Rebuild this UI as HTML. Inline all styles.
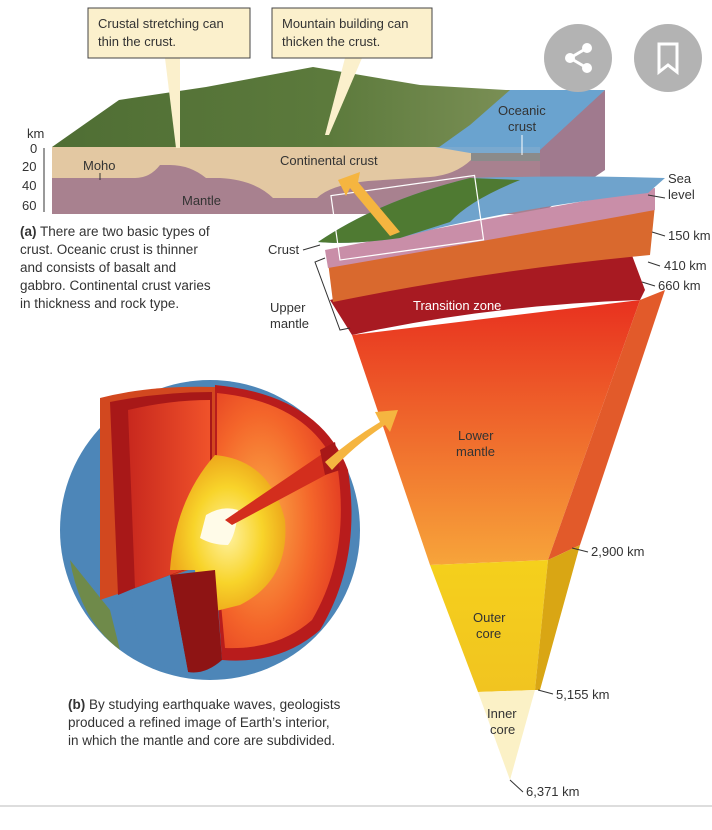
<!DOCTYPE html>
<html><head><meta charset="utf-8"><style>
html,body{margin:0;padding:0;background:#fff;}
svg{display:block;font-family:"Liberation Sans",sans-serif;}
</style></head><body>
<svg width="712" height="830" viewBox="0 0 712 830" xmlns="http://www.w3.org/2000/svg">
<defs>
<linearGradient id="lm" x1="0" y1="0" x2="0" y2="1"><stop offset="0" stop-color="#e8311f"/><stop offset="1" stop-color="#f7a43a"/></linearGradient>
<linearGradient id="oc" x1="0" y1="0" x2="0" y2="1"><stop offset="0" stop-color="#f5d01c"/><stop offset="1" stop-color="#f1c420"/></linearGradient>
<radialGradient id="rf" cx="0.35" cy="0.5" r="0.7"><stop offset="0" stop-color="#fbb048"/><stop offset="0.6" stop-color="#f4652a"/><stop offset="1" stop-color="#e23a22"/></radialGradient>
<radialGradient id="yc" cx="0.5" cy="0.5" r="0.5"><stop offset="0" stop-color="#fff2a0"/><stop offset="0.6" stop-color="#f8d42a"/><stop offset="1" stop-color="#eeaa1c"/></radialGradient>
<linearGradient id="lf" x1="0" y1="0" x2="1" y2="0"><stop offset="0" stop-color="#c8281e"/><stop offset="1" stop-color="#f0522a"/></linearGradient>
<linearGradient id="land" x1="0" y1="0" x2="1" y2="0"><stop offset="0" stop-color="#4f6e34"/><stop offset="0.5" stop-color="#5c7a3c"/><stop offset="1" stop-color="#8a9a62"/></linearGradient>
</defs>
<!-- top block diagram -->
<polygon points="52,147 119,100 206,87 313,67 420,85 506,90 605,90 540,153 52,153" fill="url(#land)"/>
<polygon points="435,150 470,125 510,90 605,90 540,153" fill="#6aa3cf"/>
<polygon points="540,150 605,90 605,170 540,214" fill="#a07a8e"/>
<rect x="52" y="147" width="488" height="67" fill="#a8818f"/>
<path d="M52,147 L540,147 L540,160 L471,160 Q455,175 430,177 L368,181 Q330,185 317,198 L273,198 Q255,180 220,178 L206,178 Q190,165 170,165 L160,165 Q150,178 135,178 L52,178 Z" fill="#e3c8a2"/>
<polygon points="435,147 540,147 540,153 470,153" fill="#7aa9cf"/>
<rect x="471" y="153" width="69" height="8" fill="#8b8b8b"/>
<text x="27" y="138" font-size="13" fill="#333">km</text>
<g font-size="13" fill="#333"><text x="30" y="153">0</text><text x="22" y="171">20</text><text x="22" y="190">40</text><text x="22" y="210">60</text></g>
<line x1="44" y1="148" x2="44" y2="212" stroke="#333"/>
<text x="83" y="170" font-size="13" fill="#333">Moho</text>
<line x1="100" y1="173" x2="100" y2="180" stroke="#333"/>
<text x="280" y="165" font-size="13" fill="#333">Continental crust</text>
<text x="182" y="205" font-size="13" fill="#333">Mantle</text>
<text x="498" y="115" font-size="13" fill="#333">Oceanic</text><text x="508" y="131" font-size="13" fill="#333">crust</text>
<line x1="522" y1="135" x2="522" y2="155" stroke="#fff"/>
<!-- callouts -->
<polygon points="165,58 180,58 180,148 176,148" fill="#fbf0cc"/>
<polygon points="345,58 362,58 329,135 325,135" fill="#fbf0cc"/>
<rect x="88" y="8" width="162" height="50" fill="#fbf0cc" stroke="#444"/>
<text x="98" y="28" font-size="13" fill="#333">Crustal stretching can</text><text x="98" y="46" font-size="13" fill="#333">thin the crust.</text>
<rect x="272" y="8" width="160" height="50" fill="#fbf0cc" stroke="#444"/>
<text x="282" y="28" font-size="13" fill="#333">Mountain building can</text><text x="282" y="46" font-size="13" fill="#333">thicken the crust.</text>
<!-- buttons -->
<circle cx="578" cy="58" r="34" fill="#b3b3b3"/><circle cx="668" cy="58" r="34" fill="#b3b3b3"/>
<g stroke="#fff" stroke-width="3"><line x1="570" y1="58" x2="587" y2="48"/><line x1="570" y1="58" x2="587" y2="68"/></g>
<circle cx="570" cy="58" r="5" fill="#fff"/><circle cx="587" cy="48" r="5" fill="#fff"/><circle cx="587" cy="68" r="5" fill="#fff"/>
<path d="M659,44 h18 v28 l-9,-7 l-9,7 z" fill="none" stroke="#fff" stroke-width="3"/>
<!-- (a) caption -->
<g font-size="13.5" fill="#333"><text x="20" y="236"><tspan font-weight="bold">(a)</tspan> There are two basic types of</text><text x="20" y="254">crust. Oceanic crust is thinner</text><text x="20" y="272">and consists of basalt and</text><text x="20" y="290">gabbro. Continental crust varies</text><text x="20" y="308">in thickness and rock type.</text></g>
<!-- section layers -->
<polygon points="352,335 640,300 548,560 430,565" fill="url(#lm)"/>
<polygon points="640,300 665,290 580,545 548,560" fill="#e25a2a"/>
<path d="M330,300 Q480,260 630,250 L645,290 L640,300 Q490,305 352,335 Z" fill="#a81a22"/>
<path d="M328,262 Q480,230 655,205 L650,255 Q490,270 333,302 Z" fill="#d9692e"/>
<path d="M325,250 Q480,220 655,188 L655,210 Q490,240 328,268 Z" fill="#c98ea8"/>
<path d="M318,242 Q380,200 470,178 Q570,175 665,178 L648,193 Q500,210 400,238 Q350,245 318,242 Z" fill="#6fa3cc"/>
<path d="M318,242 Q380,200 470,178 L520,180 Q470,200 450,222 L400,238 Q350,245 318,242 Z" fill="#4f7a32"/>
<rect x="340" y="195" width="145" height="65" fill="none" stroke="#fff" stroke-width="1.2" transform="rotate(-8 340 260)"/>
<polygon points="338,180 360,172 358,182 400,232 390,236 350,188 346,196" fill="#f5b540"/>
<text x="413" y="310" font-size="13" fill="#fff">Transition zone</text>
<polygon points="430,565 548,560 535,690 478,692" fill="url(#oc)"/>
<polygon points="548,560 580,545 540,690 535,690" fill="#d9a614"/>
<polygon points="478,692 535,690 510,780" fill="#fbf1c6"/>
<text x="458" y="440" font-size="13" fill="#333">Lower</text><text x="456" y="456" font-size="13" fill="#333">mantle</text>
<text x="473" y="622" font-size="13" fill="#333">Outer</text><text x="476" y="638" font-size="13" fill="#333">core</text>
<text x="487" y="718" font-size="13" fill="#333">Inner</text><text x="490" y="734" font-size="13" fill="#333">core</text>
<g font-size="13" fill="#333"><text x="668" y="183">Sea</text><text x="668" y="199">level</text><text x="668" y="240">150 km</text><text x="664" y="270">410 km</text><text x="658" y="290">660 km</text><text x="591" y="556">2,900 km</text><text x="556" y="699">5,155 km</text><text x="526" y="796">6,371 km</text></g>
<g stroke="#333" fill="none"><line x1="648" y1="195" x2="665" y2="198"/><line x1="652" y1="232" x2="665" y2="236"/><line x1="648" y1="262" x2="660" y2="266"/><line x1="642" y1="282" x2="655" y2="286"/><line x1="572" y1="548" x2="588" y2="552"/><line x1="538" y1="690" x2="553" y2="694"/><line x1="510" y1="780" x2="523" y2="792"/></g>
<text x="268" y="254" font-size="13" fill="#333">Crust</text><line x1="303" y1="250" x2="320" y2="245" stroke="#333"/>
<text x="270" y="312" font-size="13" fill="#333">Upper</text><text x="270" y="328" font-size="13" fill="#333">mantle</text>
<path d="M325,258 L315,262 L340,330 L350,328" fill="none" stroke="#333"/>
<!-- globe -->
<circle cx="210" cy="530" r="150" fill="#4d86b8"/>
<path d="M70,560 Q80,620 120,650 L110,610 Z" fill="#6f8a4a"/>
<path d="M215,385 Q320,395 348,470 Q362,560 320,630 Q280,665 222,660 L215,560 Z" fill="#b81c1c"/>
<path d="M217,393 Q310,402 338,470 Q350,555 312,620 Q278,650 225,648 L217,560 Z" fill="url(#rf)"/>
<path d="M100,398 Q150,385 215,387 L215,560 L175,575 Q130,590 100,600 Z" fill="#d2481f"/>
<path d="M110,402 Q160,392 212,392 L212,560 L130,590 L118,595 Z" fill="#a81818"/>
<path d="M128,410 Q170,400 210,400 L210,560 L135,588 Z" fill="url(#lf)"/>
<path d="M215,455 Q270,460 285,520 Q290,580 240,605 L200,615 L195,570 L170,570 Q175,500 215,455 Z" fill="url(#yc)"/>
<path d="M206,515 Q222,505 238,510 Q236,535 228,545 Q212,545 200,538 Z" fill="#fffbe8"/>
<path d="M170,575 L215,570 L222,660 Q205,675 188,672 Z" fill="#8e1414"/>
<path d="M130,590 L170,575 L188,672 Q160,670 140,650 Z" fill="#4d86b8"/>
<polygon points="225,520 325,452 335,470 232,525" fill="#d32e1d"/>
<polygon points="320,450 335,442 340,470 325,475" fill="#a81818"/>
<path d="M325,462 Q350,440 380,422 L375,412 L398,410 L390,432 L385,425 Q355,445 332,470 Z" fill="#f5b540"/>
<g font-size="13.5" fill="#333"><text x="68" y="709"><tspan font-weight="bold">(b)</tspan> By studying earthquake waves, geologists</text><text x="68" y="727">produced a refined image of Earth’s interior,</text><text x="68" y="745">in which the mantle and core are subdivided.</text></g>
<line x1="0" y1="806" x2="712" y2="806" stroke="#ddd" stroke-width="2"/>
</svg>
</body></html>
